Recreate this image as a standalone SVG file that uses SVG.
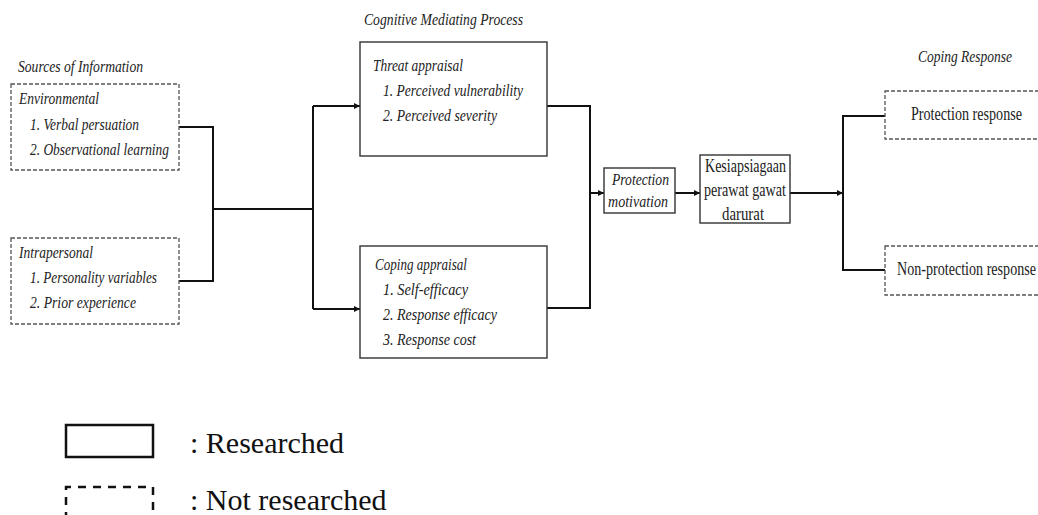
<svg xmlns="http://www.w3.org/2000/svg" width="1038" height="515" viewBox="0 0 1038 515">
<style>
.it{font-family:"Liberation Serif","Times New Roman",serif;font-style:italic;font-size:17px;fill:#222}
.rg{font-family:"Liberation Serif","Times New Roman",serif;font-size:18px;fill:#222}
.lg{font-family:"Liberation Serif","Times New Roman",serif;font-size:30px;fill:#111}
.solid{fill:#fff;stroke:#333;stroke-width:1.4}
.dash{fill:#fff;stroke:#555;stroke-width:1.3;stroke-dasharray:4 2}
.conn{fill:none;stroke:#111;stroke-width:2}
</style>
<defs>
<marker id="ah" markerUnits="userSpaceOnUse" markerWidth="7" markerHeight="7" refX="6" refY="3" orient="auto">
<path d="M0,0 L6,3 L0,6 z" fill="#111"/>
</marker>
</defs>
<rect width="1038" height="515" fill="#fff"/>

<text class="it" x="18" y="72" textLength="125" lengthAdjust="spacingAndGlyphs">Sources of Information</text>
<text class="it" x="364" y="25" textLength="159" lengthAdjust="spacingAndGlyphs">Cognitive Mediating Process</text>
<text class="it" x="918" y="62" textLength="94" lengthAdjust="spacingAndGlyphs">Coping Response</text>

<g id="connectors">
<polyline class="conn" points="179,127 213,127 213,281 179,281"/>
<line class="conn" x1="213" y1="209" x2="313" y2="209"/>
<line class="conn" x1="313" y1="106" x2="313" y2="309"/>
<line class="conn" x1="313" y1="106" x2="360" y2="106" marker-end="url(#ah)"/>
<line class="conn" x1="313" y1="309" x2="360" y2="309" marker-end="url(#ah)"/>
<polyline class="conn" points="547,106 590,106 590,308 547,308"/>
<line class="conn" x1="590" y1="193" x2="604" y2="193" marker-end="url(#ah)"/>
<line class="conn" x1="675" y1="193" x2="700" y2="193" marker-end="url(#ah)"/>
<line class="conn" x1="790" y1="193" x2="843" y2="193" marker-end="url(#ah)"/>
<polyline class="conn" points="885,116 843,116 843,270 885,270"/>
</g>

<g id="environmental">
<rect class="dash" x="11" y="84" width="168" height="86"/>
<text class="it" x="19" y="104" textLength="80" lengthAdjust="spacingAndGlyphs">Environmental</text>
<text class="it" x="30" y="130" textLength="109" lengthAdjust="spacingAndGlyphs">1. Verbal persuation</text>
<text class="it" x="30" y="155" textLength="139" lengthAdjust="spacingAndGlyphs">2. Observational learning</text>
</g>

<g id="intrapersonal">
<rect class="dash" x="11" y="238" width="168" height="86"/>
<text class="it" x="19" y="258" textLength="74" lengthAdjust="spacingAndGlyphs">Intrapersonal</text>
<text class="it" x="30" y="283" textLength="127" lengthAdjust="spacingAndGlyphs">1. Personality variables</text>
<text class="it" x="30" y="308" textLength="106" lengthAdjust="spacingAndGlyphs">2. Prior experience</text>
</g>

<g id="threat">
<rect class="solid" x="360" y="42" width="187" height="114"/>
<text class="it" x="373" y="71" textLength="90" lengthAdjust="spacingAndGlyphs">Threat appraisal</text>
<text class="it" x="383" y="96" textLength="140" lengthAdjust="spacingAndGlyphs">1. Perceived vulnerability</text>
<text class="it" x="383" y="121" textLength="114" lengthAdjust="spacingAndGlyphs">2. Perceived severity</text>
</g>

<g id="coping">
<rect class="solid" x="360" y="246" width="187" height="112"/>
<text class="it" x="375" y="270" textLength="92" lengthAdjust="spacingAndGlyphs">Coping appraisal</text>
<text class="it" x="383" y="295" textLength="85" lengthAdjust="spacingAndGlyphs">1. Self-efficacy</text>
<text class="it" x="383" y="320" textLength="114" lengthAdjust="spacingAndGlyphs">2. Response efficacy</text>
<text class="it" x="383" y="345" textLength="93" lengthAdjust="spacingAndGlyphs">3. Response cost</text>
</g>

<g id="protection-motivation">
<rect class="solid" x="604" y="168" width="71" height="45"/>
<text class="it" x="612" y="185" textLength="57" lengthAdjust="spacingAndGlyphs">Protection</text>
<text class="it" x="608" y="207" textLength="60" lengthAdjust="spacingAndGlyphs">motivation</text>
</g>

<g id="kesiapsiagaan">
<rect class="solid" x="700" y="155" width="90" height="68"/>
<text class="rg" x="705" y="172" textLength="81" lengthAdjust="spacingAndGlyphs">Kesiapsiagaan</text>
<text class="rg" x="704" y="196" textLength="82" lengthAdjust="spacingAndGlyphs">perawat gawat</text>
<text class="rg" x="722" y="220" textLength="42" lengthAdjust="spacingAndGlyphs">darurat</text>
</g>

<g id="protection-response">
<rect class="dash" x="885" y="91" width="160" height="48"/>
<text class="rg" x="911" y="120" textLength="111" lengthAdjust="spacingAndGlyphs">Protection response</text>
</g>

<g id="non-protection-response">
<rect class="dash" x="885" y="246" width="160" height="49"/>
<text class="rg" x="897" y="275" textLength="139" lengthAdjust="spacingAndGlyphs">Non-protection response</text>
</g>

<g id="legend">
<rect x="66" y="425" width="87" height="32" fill="none" stroke="#111" stroke-width="2.5"/>
<text class="lg" x="190" y="453">: Researched</text>
<path d="M66,520 V487 H153 V520" fill="none" stroke="#111" stroke-width="2.5" stroke-dasharray="8 7"/>
<text class="lg" x="190" y="510">: Not researched</text>
</g>
</svg>
